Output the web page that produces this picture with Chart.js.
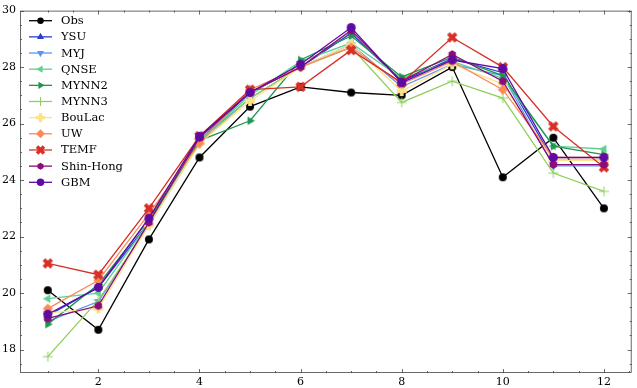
<!DOCTYPE html>
<html><head><meta charset="utf-8">
<script src="https://cdn.jsdelivr.net/npm/chart.js@4/dist/chart.umd.min.js"></script>
<style>html,body{margin:0;padding:0;background:#fff}#wrap{width:637px;height:388px}</style>
</head><body><div id="wrap"><canvas id="c" width="637" height="388"></canvas></div>
<script>
const months = [1,2,3,4,5,6,7,8,9,10,11,12];
const xTicks = [2,4,6,8,10,12];
const yTicks = [18,20,22,24,26,28,30];
const seriesNames = ["Obs","YSU","MYJ","QNSE","MYNN2","MYNN3","BouLac","UW","TEMF","Shin-Hong","GBM"];
const obs      = [20.1,18.7,21.9,24.8,26.6,27.3,27.1,27.0,28.0,24.1,25.5,23.0];
const ysu      = [19.2,20.2,22.5,25.4,27.1,28.0,29.2,27.5,28.3,27.8,24.7,24.7];
const myj      = [19.0,19.7,22.4,25.4,26.9,28.0,28.8,27.3,28.1,27.7,24.5,24.5];
const qnse     = [19.8,20.0,22.5,25.4,27.0,28.2,28.85,27.6,28.2,27.6,25.2,25.1];
const mynn2    = [18.9,20.3,22.6,25.4,26.1,28.25,29.1,27.65,28.35,27.7,25.2,24.9];
const mynn3    = [17.75,19.75,22.4,25.3,26.9,28.0,28.7,26.75,27.5,26.9,24.25,23.6];
const boulac   = [19.3,19.45,22.4,25.3,26.8,28.0,28.8,27.15,28.1,27.4,24.7,24.7];
const uw       = [19.45,20.45,22.8,25.3,27.2,28.0,28.7,27.4,28.2,27.2,24.8,24.8];
const temf     = [21.05,20.65,23.0,25.55,27.2,27.3,28.6,27.45,29.05,28.0,25.9,24.45];
const shinhong = [19.1,19.55,22.5,25.5,27.1,28.0,29.3,27.5,28.45,27.5,24.55,24.55];
const gbm      = [19.25,20.2,22.65,25.55,27.1,28.1,29.4,27.45,28.25,27.95,24.8,24.8];
const seriesData = [obs,ysu,myj,qnse,mynn2,mynn3,boulac,uw,temf,shinhong,gbm];

const colors = ["#000000","#2a3ed6","#5b96f5","#5fcf92","#1e9650","#8fd05c","#fde28c","#fb8a58","#d73027","#8c0c78","#600aa4"];
const shapes = ["circle","tri_up","tri_down","tri_left","tri_right","plus","plusFilled","diamond","xFilled","hexagon","circle"];
const sizes  = [8,9,9,9,9,10,10,10,9.5,8.5,9];
const lsizes = [6.5,7.5,7.5,7.5,7.5,9,9,9,8.5,7,7.5];

function drawShape(ctx, shape, cx, cy, s, color){
  ctx.save();
  ctx.fillStyle = color; ctx.strokeStyle = color; ctx.lineWidth = 1;
  const r = s/2;
  ctx.beginPath();
  if (shape === "circle") { ctx.arc(cx,cy,r,0,Math.PI*2); ctx.fill(); }
  else if (shape.startsWith("tri")) {
    const ang = {tri_up:-Math.PI/2, tri_down:Math.PI/2, tri_left:Math.PI, tri_right:0}[shape];
    for (let k=0;k<3;k++){ const a = ang + k*2*Math.PI/3; const px=cx+r*1.1*Math.cos(a), py=cy+r*1.1*Math.sin(a); k?ctx.lineTo(px,py):ctx.moveTo(px,py);} ctx.closePath(); ctx.fill();
  }
  else if (shape === "plus") { ctx.moveTo(cx-r,cy); ctx.lineTo(cx+r,cy); ctx.moveTo(cx,cy-r); ctx.lineTo(cx,cy+r); ctx.stroke(); }
  else if (shape === "plusFilled") { const w=r*0.38; ctx.fillRect(cx-r,cy-w,2*r,2*w); ctx.fillRect(cx-w,cy-r,2*w,2*r); }
  else if (shape === "diamond") { ctx.moveTo(cx,cy-r); ctx.lineTo(cx+r,cy); ctx.lineTo(cx,cy+r); ctx.lineTo(cx-r,cy); ctx.closePath(); ctx.fill(); }
  else if (shape === "xFilled") {
    ctx.translate(cx,cy); ctx.rotate(Math.PI/4); const w=r*0.42, l=r*1.15;
    ctx.fillRect(-l,-w,2*l,2*w); ctx.fillRect(-w,-l,2*w,2*l);
  }
  else if (shape === "hexagon") { for (let k=0;k<6;k++){ const a=-Math.PI/2+k*Math.PI/3; const px=cx+r*Math.cos(a), py=cy+r*Math.sin(a); k?ctx.lineTo(px,py):ctx.moveTo(px,py);} ctx.closePath(); ctx.fill(); }
  ctx.restore();
}
function markerImage(shape, s, color){
  const c = document.createElement("canvas"); const d = Math.ceil(s+4); c.width=d; c.height=d;
  drawShape(c.getContext("2d"), shape, d/2, d/2, s, color); return c;
}

const datasets = seriesNames.map((name,i)=>({
  label: name,
  data: months.map((m,j)=>({x:m, y:seriesData[i][j]})),
  borderColor: colors[i],
  backgroundColor: colors[i],
  borderWidth: 1.3,
  pointStyle: markerImage(shapes[i], sizes[i], colors[i]),
  pointRadius: 4, pointHoverRadius: 4,
  tension: 0, fill: false,
  order: seriesNames.length - i
}));

const FONT = "DejaVu Serif";

const ticksAndLegend = {
  id: "ticksAndLegend",
  afterDraw(chart){
    const ctx = chart.ctx; const a = chart.chartArea;
    const xs = chart.scales.x, ys = chart.scales.y;
    ctx.save();
    ctx.strokeStyle = "#444"; ctx.lineWidth = 0.8;
    ctx.beginPath();
    for (let v=1; v<=12.5; v+=0.5){
      const px = Math.round(xs.getPixelForValue(v))+0.5; const major = (v%2===0);
      const L = major?4:2;
      ctx.moveTo(px,a.bottom); ctx.lineTo(px,a.bottom-L);
      ctx.moveTo(px,a.top); ctx.lineTo(px,a.top+L);
    }
    for (let v=17.5; v<=30; v+=0.5){
      const py = Math.round(ys.getPixelForValue(v))+0.5; const major = (v%2===0);
      const L = major?4:2;
      ctx.moveTo(a.left,py); ctx.lineTo(a.left+L,py);
      ctx.moveTo(a.right,py); ctx.lineTo(a.right-L,py);
    }
    ctx.stroke();
    ctx.strokeRect(a.left+0.5, a.top+0.5, a.right-a.left-1, a.bottom-a.top-1);
    // legend
    ctx.font = "11.5px '"+FONT+"'"; ctx.textBaseline = "middle"; ctx.fillStyle = "#000";
    seriesNames.forEach((name,i)=>{
      const y = 20.7 + i*16.16;
      ctx.strokeStyle = colors[i]; ctx.lineWidth = 1.3;
      ctx.beginPath(); ctx.moveTo(29,y); ctx.lineTo(52,y); ctx.stroke();
      drawShape(ctx, shapes[i], 40.5, y, lsizes[i], colors[i]);
      ctx.fillStyle = "#000"; ctx.fillText(name, 61, y+0.5);
    });
    ctx.restore();
  }
};

new Chart(document.getElementById("c"), {
  type: "line",
  data: { datasets },
  options: {
    responsive: false, animation: false,
    layout: { padding: { top: 6, right: 3, left: 0, bottom: 0 } },
    plugins: { legend: { display: false }, tooltip: { enabled: false } },
    scales: {
      x: {
        type: "linear", min: 0.45, max: 12.55,
        afterFit: s => { s.height = 15; },
        afterBuildTicks: s => { s.ticks = xTicks.map(v=>({value:v})); },
        grid: { display: false, drawTicks: false },
        border: { display: false },
        ticks: { font: { family: FONT, size: 11 }, color: "#000", padding: 3, maxRotation: 0, autoSkip: false }
      },
      y: {
        type: "linear", min: 17.17, max: 30.0,
        afterFit: s => { s.width = 20; },
        afterBuildTicks: s => { s.ticks = yTicks.map(v=>({value:v})); },
        grid: { display: false, drawTicks: false },
        border: { display: false },
        ticks: { font: { family: FONT, size: 11 }, color: "#000", padding: 4, autoSkip: false }
      }
    }
  },
  plugins: [ticksAndLegend]
});
</script></body></html>
